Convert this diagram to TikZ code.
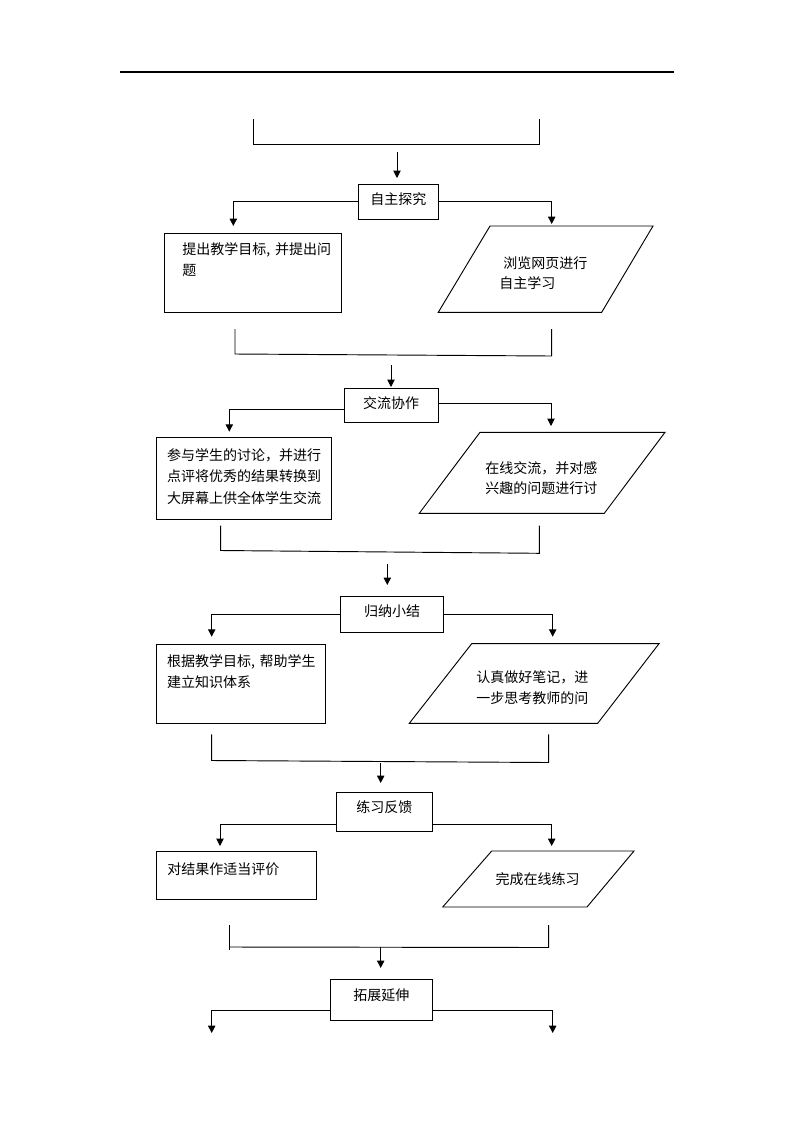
\documentclass[tikz,border=0pt]{standalone}
\usepackage{fontspec}
\newfontfamily\cjk{Noto Sans CJK SC}
\usetikzlibrary{arrows.meta}
\begin{document}
\begin{tikzpicture}[x=0.75pt,y=-0.75pt,line width=0.7pt,
  every node/.style={font=\cjk\fontsize{10.5pt}{15.5pt}\selectfont},
  arr/.style={-{Triangle[length=5.5pt,width=5.5pt]}},
  stage/.style={draw, inner sep=0pt, text height=8pt, text depth=4pt},
  frame/.style={draw, inner sep=0pt, anchor=north west},
  txt/.style={inner sep=0pt, anchor=base west, align=left, text width=200pt},
]
\useasboundingbox (0,0) rectangle (793,1122);

% top rule
\draw[line width=0.8pt] (120,72) -- (674,72);

% ---------- stage 1 ----------
\draw (253,119) -- (253,144) -- (539,144) -- (539,119);
\coordinate (a1s) at (397,152);
\coordinate (a1e) at (397,178);
\draw[arr] (a1s) -- (a1e);
\node[stage, minimum width=60pt, minimum height=26.25pt] (b1) at (398.3,201.7) {自主探究};
\coordinate (l1) at (233.3,226);
\coordinate (r1a) at (551.7,224);
\draw[arr] (b1.west) -| (l1);
\draw[arr] (b1.east) -| (r1a);
\node[frame, minimum width=132.5pt, minimum height=59.25pt] (r1) at (164,233.3) {};
\node[txt] (t1) at (182,254.5) {提出教学目标, 并提出问\\题};
\draw (490,226) -- (653,226) -- (601.7,312.3) -- (438.3,312.3) -- cycle;
\node[txt] (t2) at (499,268.3) {\hspace*{3pt}浏览网页进行\\自主学习};

% ---------- stage 2 ----------
\draw (235,329) -- (235,354) -- (551.7,356) -- (551.7,329);
\coordinate (a2s) at (391,365);
\coordinate (a2e) at (391,387);
\draw[arr] (a2s) -- (a2e);
\node[stage, minimum width=70.5pt, minimum height=25.8pt] (b2) at (391,405.5) {交流协作};
\coordinate (l2) at (229.3,431.7);
\coordinate (r2a) at (551,426);
\draw[arr] ([yshift=-3pt]b2.west) -| (l2);
\draw[arr] ([yshift=1.5pt]b2.east) -| (r2a);
\node[frame, minimum width=131.25pt, minimum height=61.5pt] (r2) at (156,437.3) {};
\node[txt, font=\cjk\fontsize{10.5pt}{16.25pt}\selectfont] (t3) at (166.7,460) {参与学生的讨论，并进行\\点评将优秀的结果转换到\\大屏幕上供全体学生交流};
\draw (480,432.3) -- (665,432.3) -- (604.3,513.3) -- (419.3,513.3) -- cycle;
\node[txt, font=\cjk\fontsize{10.5pt}{15pt}\selectfont] (t4) at (485,473.3) {在线交流，并对感\\兴趣的问题进行讨};

% ---------- stage 3 ----------
\draw (220.7,525.7) -- (220.7,550.5) -- (539.3,553.3) -- (539.3,525.7);
\coordinate (a3s) at (387.3,564);
\coordinate (a3e) at (387.3,585);
\draw[arr] (a3s) -- (a3e);
\node[stage, minimum width=77pt, minimum height=27pt, text depth=5pt] (b3) at (392,614.7) {归纳小结};
\coordinate (l3) at (211.7,636.7);
\coordinate (r3a) at (552.7,636.7);
\draw[arr] (b3.west) -| (l3);
\draw[arr] (b3.east) -| (r3a);
\node[frame, minimum width=127pt, minimum height=59.7pt] (r3) at (156,643.7) {};
\node[txt] (t5) at (166.7,666.7) {根据教学目标, 帮助学生\\建立知识体系};
\draw (471.7,643.7) -- (659,643.7) -- (597.7,723.3) -- (409.3,723.3) -- cycle;
\node[txt, font=\cjk\fontsize{10.5pt}{15.75pt}\selectfont] (t6) at (476,682.3) {认真做好笔记，进\\一步思考教师的问};

% ---------- stage 4 ----------
\draw (211.7,734.3) -- (211.7,760.5) -- (548.7,762.5) -- (548.7,734.3);
\coordinate (a4s) at (380.7,763);
\coordinate (a4e) at (380.7,783);
\draw[arr] (a4s) -- (a4e);
\node[stage, minimum width=72.5pt, minimum height=29.25pt, text depth=6pt] (b4) at (384.3,811.5) {练习反馈};
\coordinate (l4) at (220,846);
\coordinate (r4a) at (551.7,846);
\draw[arr] ([yshift=-9.4pt]b4.west) -| (l4);
\draw[arr] ([yshift=-9.4pt]b4.east) -| (r4a);
\node[frame, minimum width=119.8pt, minimum height=36pt] (r4) at (156,851) {};
\node[txt] (t7) at (167,874) {对结果作适当评价};
\draw (491.7,851) -- (634,851) -- (587,907) -- (442.7,907) -- cycle;
\node (t8) at (537.5,879) {完成在线练习};

% ---------- stage 5 ----------
\draw (229.3,925) -- (229.3,949.5);
\draw (229.3,947) -- (548.7,947.5) -- (548.7,925);
\coordinate (a5s) at (380.7,947);
\coordinate (a5e) at (380.7,968);
\draw[arr] (a5s) -- (a5e);
\node[stage, minimum width=77pt, minimum height=30.75pt, text depth=7pt] (b5) at (381.3,999.5) {拓展延伸};
\coordinate (l5) at (211.7,1033);
\coordinate (r5a) at (552.7,1033);
\draw[arr] ([yshift=-7.9pt]b5.west) -| (l5);
\draw[arr] ([yshift=-7.9pt]b5.east) -| (r5a);
\end{tikzpicture}
\end{document}
